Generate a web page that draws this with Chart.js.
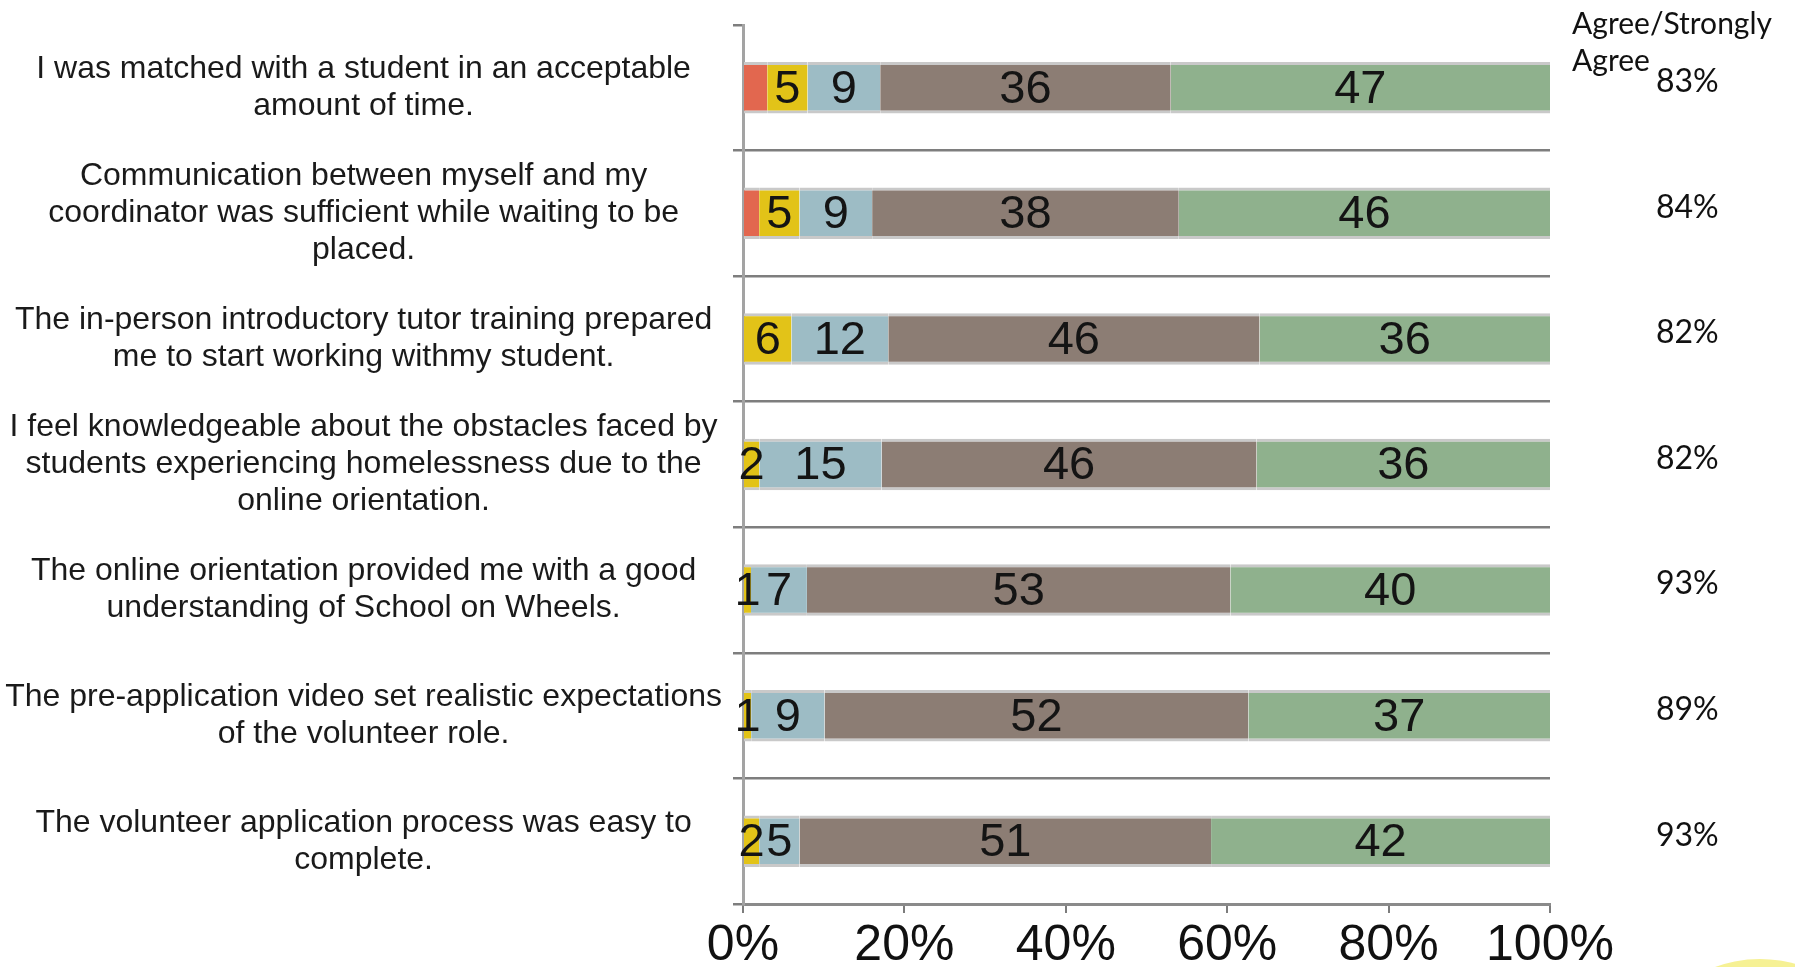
<!DOCTYPE html>
<html lang="en">
<head>
    <meta charset="UTF-8">
    <title>Volunteer Survey - Agreement by Statement</title>
    <script src="https://cdn.jsdelivr.net/npm/chart.js"></script>
    <style>
        html, body {
            margin: 0;
            padding: 0;
            background: #ffffff;
            overflow: hidden;
        }
        #wrap {
            position: relative;
            width: 1795px;
            height: 967px;
        }
        /* pale yellow decoration peeking in at the bottom right */
        #blob {
            position: absolute;
            left: 1630px;
            top: 959px;
            width: 260px;
            height: 260px;
            border-radius: 50%;
            background: #f6f194;
        }
        canvas {
            position: absolute;
            left: 0;
            top: 0;
        }
    </style>
</head>
<body>
    <div id="wrap">
        <div id="blob"></div>
        <canvas id="surveyChart"></canvas>
    </div>

    <script>
        // Statements (one per bar, top to bottom)
        const statements = [
            ['I was matched with a student in an acceptable', 'amount of time.'],
            ['Communication between myself and my', 'coordinator was sufficient while waiting to be', 'placed.'],
            ['The in-person introductory tutor training prepared', 'me to start working withmy student.'],
            ['I feel knowledgeable about the obstacles faced by', 'students experiencing homelessness due to the', 'online orientation.'],
            ['The online orientation provided me with a good', 'understanding of School on Wheels.'],
            ['The pre-application video set realistic expectations', 'of the volunteer role.'],
            ['The volunteer application process was easy to', 'complete.']
        ];

        // Responses (%), as labelled on the bars
        const stronglyDisagree = [3, 2, 0, 0, 0, 0, 0];
        const disagree         = [5, 5, 6, 2, 1, 1, 2];
        const neutral          = [9, 9, 12, 15, 7, 9, 5];
        const agree            = [36, 38, 46, 46, 53, 52, 51];
        const stronglyAgree    = [47, 46, 36, 36, 40, 37, 42];

        const xTicks = [0, 20, 40, 60, 80, 100];

        // Agree + Strongly agree column on the right
        const agreeTotals = agree.map((v, i) => v + stronglyAgree[i]);

        // 100% stacked: each row is scaled so its segments fill the bar
        const rowTotals = agree.map((_, i) =>
            stronglyDisagree[i] + disagree[i] + neutral[i] + agree[i] + stronglyAgree[i]);
        const toShare = arr => arr.map((v, i) => v / rowTotals[i] * 100);

        const series = [
            { label: 'Strongly disagree', values: stronglyDisagree, color: '#e2674f', showLabels: false },
            { label: 'Disagree', values: disagree, color: '#e2c318', showLabels: true },
            { label: 'Neutral', values: neutral, color: '#9dbcc5', showLabels: true },
            { label: 'Agree', values: agree, color: '#8c7d74', showLabels: true },
            { label: 'Strongly agree', values: stronglyAgree, color: '#8fb18d', showLabels: true }
        ];

        const LABEL_FONT = '"Liberation Sans", Arial, sans-serif';

        // Numbers written in the middle of each segment
        const segmentLabels = {
            id: 'segmentLabels',
            afterDatasetsDraw(chart) {
                const ctx = chart.ctx;
                ctx.save();
                ctx.font = '47px ' + LABEL_FONT;
                ctx.fillStyle = '#141414';
                ctx.textAlign = 'center';
                ctx.textBaseline = 'middle';
                chart.data.datasets.forEach((ds, di) => {
                    if (!ds.showLabels) return;
                    chart.getDatasetMeta(di).data.forEach((bar, i) => {
                        const raw = ds.rawValues[i];
                        if (!raw) return;
                        const p = bar.getProps(['x', 'y', 'base'], true);
                        ctx.fillText(String(raw), (p.x + p.base) / 2, p.y + 2);
                    });
                });
                ctx.restore();
            }
        };

        // "Agree/Strongly Agree" column
        const agreeColumn = {
            id: 'agreeColumn',
            afterDraw(chart) {
                const ctx = chart.ctx;
                const yScale = chart.scales.y;
                ctx.save();
                ctx.fillStyle = '#111111';
                ctx.textAlign = 'left';
                ctx.textBaseline = 'middle';
                ctx.font = '30px Lato, "Open Sans", sans-serif';
                ctx.fillText('Agree/Strongly', 1572, 24);
                ctx.fillText('Agree', 1572, 61);
                ctx.font = '32px Lato, "Open Sans", sans-serif';
                agreeTotals.forEach((v, i) => {
                    ctx.fillText(v + '%', 1656, yScale.getPixelForValue(i) - 6);
                });
                ctx.restore();
            }
        };

        const ctx = document.getElementById('surveyChart').getContext('2d');
        const surveyChart = new Chart(ctx, {
            type: 'bar',
            data: {
                labels: statements,
                datasets: series.map(s => ({
                    label: s.label,
                    data: toShare(s.values),
                    rawValues: s.values,
                    showLabels: s.showLabels,
                    backgroundColor: s.color,
                    borderColor: '#c9c9c9',
                    borderWidth: { top: 3, bottom: 3, left: 0, right: 0 },
                    borderSkipped: false,
                    barPercentage: 0.41,
                    categoryPercentage: 1
                }))
            },
            options: {
                indexAxis: 'y',
                responsive: true,
                maintainAspectRatio: false,
                animation: false,
                layout: {
                    padding: { top: 25, right: 245, bottom: 0, left: 0 }
                },
                plugins: {
                    legend: { display: false },
                    tooltip: { enabled: false }
                },
                scales: {
                    x: {
                        stacked: true,
                        min: 0,
                        max: 100,
                        afterBuildTicks: scale => {
                            scale.ticks = xTicks.map(v => ({ value: v }));
                        },
                        grid: {
                            drawOnChartArea: false,
                            color: '#7c7c7c',
                            lineWidth: 2,
                            tickLength: 9
                        },
                        border: { color: '#8a8a8a', width: 3 },
                        ticks: {
                            callback: v => v + '%',
                            color: '#111111',
                            padding: 3,
                            maxRotation: 0,
                            font: { family: LABEL_FONT, size: 50 }
                        },
                        afterFit: scale => { scale.height = 63; }
                    },
                    y: {
                        stacked: true,
                        grid: {
                            offset: true,
                            color: c => c.index === 0 ? 'rgba(0,0,0,0)' : '#7e7e7e',
                            tickColor: '#7e7e7e',
                            lineWidth: 2.5,
                            tickLength: 10
                        },
                        border: { color: '#a3a3a3', width: 3 },
                        ticks: {
                            crossAlign: 'center',
                            padding: 11,
                            color: '#1a1a1a',
                            font: { family: LABEL_FONT, size: 32, lineHeight: 37 / 32 }
                        },
                        afterFit: scale => {
                            scale.width = 743;
                            // labels sit inside their bands, no extra room needed
                            scale.paddingTop = 0;
                            scale.paddingBottom = 0;
                        }
                    }
                }
            },
            plugins: [segmentLabels, agreeColumn]
        });
    </script>
</body>
</html>
